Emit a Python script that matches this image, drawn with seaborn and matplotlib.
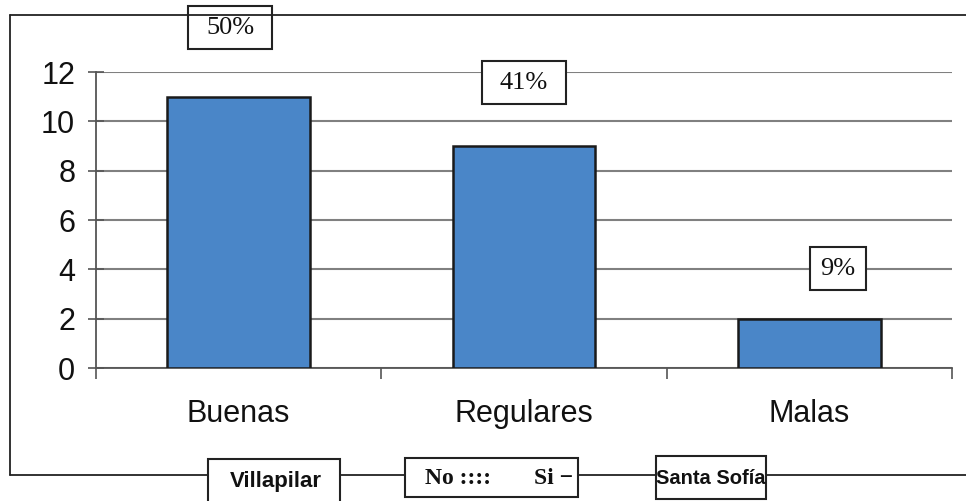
import matplotlib.pyplot as plt
import matplotlib.patches as patches
from matplotlib.lines import Line2D
import seaborn as sns

categorias = ["Buenas", "Regulares", "Malas"]
frecuencias = [11, 9, 2]
porcentajes = ["50%", "41%", "9%"]
yticks = [0, 2, 4, 6, 8, 10, 12]

# posicion de las etiquetas de porcentaje (centro de la caja)
etiqueta_x = [-0.03, 0.0, 0.10]
etiqueta_y = [13.8, 11.57, 4.03]
etiqueta_ancho = [0.296, 0.296, 0.195]

sns.set_style("white")
plt.rcParams["font.family"] = ["Liberation Sans", "DejaVu Sans"]
plt.rcParams["text.color"] = "#111111"
plt.rcParams["xtick.labelcolor"] = "#111111"
plt.rcParams["ytick.labelcolor"] = "#111111"

W, H = 966, 501
fig = plt.figure(figsize=(W / 100, H / 100), dpi=100)
ax = fig.add_axes([96 / W, 1 - 368 / H, (952 - 96) / W, (368 - 72) / H])

sns.barplot(x=categorias, y=frecuencias, color="#4a86c8", saturation=1,
            width=0.5, edgecolor="#1a1a1a", linewidth=1.8, ax=ax, zorder=3)

ax.set_ylim(0, 12)
ax.set_xlim(-0.5, 2.5)
ax.set_yticks(yticks)
ax.set_xlabel("")
ax.set_ylabel("")
ax.yaxis.grid(True, color="#808080", linewidth=1.5)
ax.set_axisbelow(True)
for s in ["top", "right"]:
    ax.spines[s].set_visible(False)
for s in ["left", "bottom"]:
    ax.spines[s].set_color("#555555")
    ax.spines[s].set_linewidth(1.3)

ax.tick_params(axis="y", left=True, direction="inout", length=12, width=1.2, color="#555555",
               labelsize=22, pad=9)
ax.tick_params(axis="x", which="major", bottom=True, length=0, labelsize=22, pad=22)
ax.set_xticks([-0.5, 0.5, 1.5, 2.5], minor=True)
ax.tick_params(axis="x", which="minor", bottom=True, direction="out", length=8, width=1.2,
               color="#555555")

# cajas de porcentaje
alto = 1.74
for i, p in enumerate(porcentajes):
    cx, cy, w = etiqueta_x[i] + i, etiqueta_y[i], etiqueta_ancho[i]
    ax.add_patch(patches.Rectangle((cx - w / 2, cy - alto / 2), w, alto, facecolor="white",
                                   edgecolor="#222222", linewidth=1.5, clip_on=False, zorder=5))
    ax.text(cx, cy, p, ha="center", va="center", fontsize=19, zorder=6,
            family=["Liberation Serif", "DejaVu Serif"])

# marco exterior
def fx(x):
    return x / W

def fy(y):
    return 1 - y / H

fig.add_artist(Line2D([fx(10), fx(966)], [fy(15), fy(15)], color="#222222", lw=1.3))
fig.add_artist(Line2D([fx(10), fx(10)], [fy(15), fy(475)], color="#222222", lw=1.3))
fig.add_artist(Line2D([fx(10), fx(966)], [fy(475), fy(475)], color="#222222", lw=1.3))

cajas = [(208, 340, 459, 520), (405, 578, 458, 497), (656, 766, 456, 499)]
for x0, x1, y0, y1 in cajas:
    fig.add_artist(patches.Rectangle((fx(x0), fy(y1)), fx(x1) - fx(x0), fy(y0) - fy(y1),
                                     transform=fig.transFigure, facecolor="white",
                                     edgecolor="#222222", linewidth=1.5, zorder=5))

fig.text(fx(276), fy(482), "Villapilar", ha="center", va="center", fontsize=16,
         fontweight="bold", zorder=6)
fig.text(fx(425), fy(478), "No ::::", ha="left", va="center", fontsize=17,
         fontweight="bold", family=["Liberation Serif", "DejaVu Serif"], zorder=6)
fig.text(fx(534), fy(478), "Si \u2212", ha="left", va="center", fontsize=17,
         fontweight="bold", family=["Liberation Serif", "DejaVu Serif"], zorder=6)
fig.text(fx(711), fy(478), "Santa Sofía", ha="center", va="center", fontsize=14.5,
         fontweight="bold", zorder=6)

fig.savefig("out.png", dpi=100)
